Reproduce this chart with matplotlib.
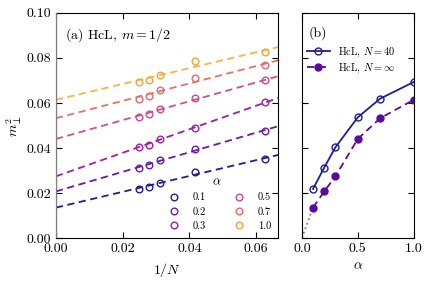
import numpy as np
import matplotlib
matplotlib.use('Agg')
import matplotlib.pyplot as plt

plt.rcParams['font.family'] = 'serif'
plt.rcParams['font.serif'] = ['cmr10', 'DejaVu Serif']
plt.rcParams['mathtext.fontset'] = 'cm'
plt.rcParams['axes.formatter.use_mathtext'] = True
plt.rcParams['font.size'] = 10

# data
inv_N = [1/40, 1/36, 1/32, 1/24, 1/16]
alphas = [0.1, 0.2, 0.3, 0.5, 0.7, 1.0]
m2 = [
    [0.0218, 0.0228, 0.0246, 0.0292, 0.0351],
    [0.0313, 0.0324, 0.0347, 0.0394, 0.0476],
    [0.0403, 0.0415, 0.0440, 0.0489, 0.0604],
    [0.0536, 0.0550, 0.0573, 0.0622, 0.0702],
    [0.0619, 0.0631, 0.0656, 0.0711, 0.0768],
    [0.0693, 0.0702, 0.0723, 0.0787, 0.0825],
]
m2_inf = [0.0135, 0.0207, 0.0274, 0.0440, 0.0532, 0.0614]
colors = ['#1e1e96', '#6a1aaa', '#9c1fa8', '#cc4a8c', '#e86a6e', '#f7a040']
line_colors = ['#1e1e96', '#6a1aaa', '#9c1fa8', '#d0508a', '#ec7060', '#fdb43c']

fig = plt.figure(figsize=(4.3, 2.81), dpi=100)
ax = fig.add_axes([0.130, 0.153, 0.517, 0.801])
ax2 = fig.add_axes([0.702, 0.153, 0.260, 0.801])

x = np.array(inv_N)
xp = np.linspace(0, 0.0666, 10)
for k in range(len(alphas)):
    y = np.array(m2[k])
    b = m2_inf[k]
    slope = np.sum(x*(y-b))/np.sum(x**2)
    ax.plot(xp, b + slope*xp, '--', color=line_colors[k], lw=1.3, dashes=(4, 2.5))
    ax.plot(x, y, 'o', mfc='none', mec=colors[k], ms=4.8, mew=1.0, label=str(alphas[k]))

ax.axvline(0, color='gray', lw=1.6, zorder=5)
ax.set_xlim(0, 0.0666)
ax.set_ylim(0, 0.1)
ax.set_xticks([0, 0.02, 0.04, 0.06])
ax.set_yticks([0, 0.02, 0.04, 0.06, 0.08, 0.10])
ax.set_xticklabels(['0.00', '0.02', '0.04', '0.06'])
ax.set_yticklabels(['0.00', '0.02', '0.04', '0.06', '0.08', '0.10'])
ax.set_xlabel(r'$1/N$')
ax.set_ylabel(r'$m_\perp^2$', labelpad=2)
ax.text(0.04, 0.94, r'(a) HcL, $m=1/2$', transform=ax.transAxes, va='top', fontsize=10)
leg = ax.legend(title=r'$\alpha$', ncol=2, loc='lower right', frameon=False,
                fontsize=7.5, title_fontsize=9, handletextpad=0.8, columnspacing=2.2,
                labelspacing=0.45, borderaxespad=0.3, bbox_to_anchor=(1.0, 0.0))

ax2.plot([0, 0.1], [0, m2_inf[0]], ':', color='gray', lw=1.3)
ax2.plot(alphas, [r[0] for r in m2], '-o', color='#1e1e96', mfc='none', ms=5, lw=1.3,
         label=r'HcL, $N=40$')
ax2.plot(alphas, m2_inf, '--o', color='#5a0aa0', ms=5, lw=1.3, dashes=(4, 2.5),
         label=r'HcL, $N=\infty$')
ax2.set_xlim(0, 1)
ax2.set_ylim(0, 0.1)
ax2.set_xticks([0, 0.5, 1.0])
ax2.set_xticklabels(['0.0', '0.5', '1.0'])
ax2.set_yticks([0, 0.02, 0.04, 0.06, 0.08, 0.10])
ax2.set_yticklabels([])
ax2.set_xlabel(r'$\alpha$')
ax2.text(0.06, 0.94, '(b)', transform=ax2.transAxes, va='top', fontsize=10)
ax2.legend(loc='upper left', bbox_to_anchor=(-0.04, 0.895), frameon=False, fontsize=7.5,
           handlelength=2.2, handletextpad=0.8, labelspacing=0.2)

for a in [ax, ax2]:
    a.tick_params(direction='in', top=True, right=True, length=4, labelsize=10)

fig.savefig('out.png', dpi=100)
